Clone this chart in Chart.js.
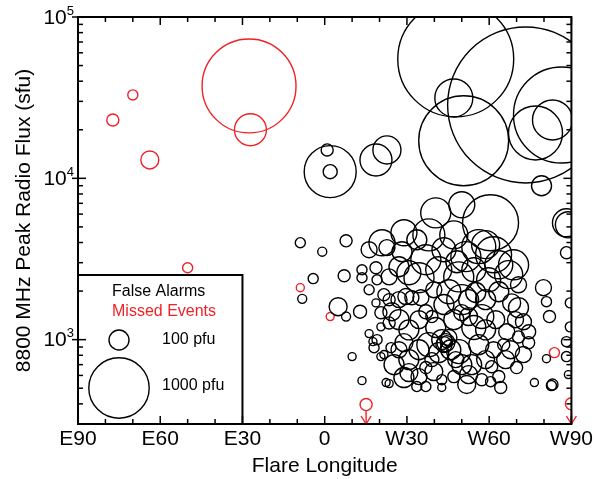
<!DOCTYPE html>
<html>
<head>
<meta charset="utf-8">
<script src="https://cdn.jsdelivr.net/npm/chart.js@4.4.0/dist/chart.umd.min.js"></script>
<style>
html, body { margin: 0; padding: 0; background: #fff; }
</style>
</head>
<body>
<canvas id="chart" width="596" height="479"></canvas>
<script>
// Longitud del flare (grados, E negativo / W positivo), flujo 8800 MHz (sfu), flujo de protones (pfu)
const faLon = [
  47.8, 73.3, 50.7, 47.1, 86.4, 76.9, 83.1, 79.1,
  2.0, 0.9, 2.0, 18.7, 22.7,
  -8.9, -0.9, 7.8, -4.2, 7.1, -8.2, 4.9, 7.8, 12.9, 10.0, 13.6,
  40.5, 50.0, 60.5, 38.0, 36.9, 34.4, 51.5, 56.2, 58.7, 63.5,
  67.1, 20.9, 16.2, 22.7, 28.2, 13.6, 18.7, 13.6, 19.1, 23.5,
  27.1, 30.7, 48.9, 45.3, 29.6, 31.8, 35.1, 16.2, 21.6, 18.7,
  24.5, 20.5, 27.1, 30.7, 36.9, 39.1, 40.5, 50.0, 55.1, 58.7,
  63.5, 68.2, 70.7, 57.3, 52.5, 50.0, 54.4, 58.7, 62.4, 66.4,
  70.7, 74.4, 20.5, 23.5, 19.1, 18.0, 21.6, 24.2, 28.9, 30.7,
  30.7, 34.4, 36.9, 39.1, 41.6, 44.2, 45.3, 46.0, 47.8, 50.0,
  52.5, 53.6, 58.7, 60.9, 66.0, 70.0, 63.5, 64.2, 51.8, 47.1,
  42.7, 42.7, 36.9, 33.6, 23.5, 22.4, 57.3, 60.5, 74.4, 69.6,
  16.2, 17.6, 20.5,
  76.5, 82.7, 83.1, 80.9, 79.8, 80.9, 82.0, 88.2, 88.2, 88.9, 88.2, 88.2, 88.9, 89.6, 89.6,
  42.7, 43.5, 44.5, 34.4, 38.0, 27.1, 25.3, 28.9, 39.8, 48.9,
  56.2, 61.6, 67.8, 72.5, 52.5, 43.5, 39.8, 47.1, 34.4, 27.1,
  23.5, 33.6, 43.5, 47.1, 54.4, 59.8, 70.7, 72.5, 65.3,
  28.9, 61.6, 68.9, 41.6, 48.2
];
const faFlux = [
  55000, 28500, 17100, 31500, 24700, 19100, 23000, 9000,
  11000, 15000, 11000, 13000, 15000,
  3990, 3510, 4100, 2390, 2490, 1790, 1600, 1390, 1490, 785, 557,
  6110, 6860, 5300, 4460, 3130, 2420, 3270, 3770, 3880, 2910,
  2530, 3990, 3610, 3720, 3510, 2710, 2790, 2420, 2350, 2450,
  2830, 2600, 2450, 1980, 1850, 1820, 1820, 2040, 1900, 1690,
  1490, 1470, 1330, 1150, 1490, 1390, 1190, 1770, 1960, 1770,
  1980, 1690, 1580, 1390, 1390, 1470, 1190, 1150, 1330, 1120,
  1040, 1120, 1200, 1270, 1000, 892, 808, 892, 958, 752,
  625, 590, 671, 752, 831, 958, 1030, 866, 752, 700,
  607, 700, 752, 680, 752, 671, 590, 505, 527, 590,
  565, 505, 512, 512, 534, 542, 565, 549, 958, 1330,
  1090, 972, 785,
  542, 519, 527, 762, 2100, 1720, 1390, 3460, 5300, 5150, 972, 785, 607, 1200, 1690,
  1000, 931, 972, 866, 931, 866, 700, 582, 634, 843,
  931, 866, 866, 808, 1770, 1650, 2040, 1330, 1330, 1770,
  1770, 4160, 3610, 4460, 2710, 2350, 2190, 1290, 931,
  4600, 3360, 2910, 2710, 3040
];
const faPfu = [
  3890, 7220, 2290, 381, 2630, 792, 424, 100,
  732, 35, 48, 266, 202,
  24, 19, 35, 24, 35, 19, 80, 19, 41, 15, 15,
  233, 173, 854, 266, 233, 233, 233, 302, 202, 202,
  202, 173, 63, 63, 100, 24, 35, 24, 24, 63,
  100, 146, 233, 146, 63, 48, 63, 24, 35, 15,
  80, 35, 100, 100, 48, 35, 100, 233, 100, 100,
  100, 80, 100, 146, 80, 63, 146, 100, 80, 63,
  35, 48, 15, 35, 24, 24, 15, 24, 80, 100,
  80, 63, 35, 48, 100, 80, 63, 100, 63, 100,
  80, 100, 80, 35, 80, 35, 35, 35, 80, 35,
  24, 15, 24, 24, 15, 15, 35, 24, 35, 63,
  15, 15, 15,
  15, 24, 29, 15, 63, 24, 35, 35, 202, 173, 24, 24, 15, 24, 24,
  100, 63, 35, 100, 146, 63, 100, 100, 80, 146,
  100, 63, 80, 63, 100, 100, 63, 100, 80, 63,
  35, 100, 146, 202, 146, 146, 63, 63, 35,
  173, 340, 233, 173, 122
];

const meLon = [-77.3, -70.0, -63.8, -27.6, -27.1, -50.0, -8.9, 2.0, 15.1, 83.8, 90];
const meFlux = [23000, 32900, 13000, 37400, 20000, 2790, 2100, 1390, 396, 831, 400];
const mePfu = [35, 24, 80, 2510, 266, 24, 15, 15, 35, 24, 35];
const meLimit = [0, 0, 0, 0, 0, 0, 0, 0, 1, 0, 1]; // limite superior (flecha)

const tickValues = [-90, -60, -30, 0, 30, 60, 90];
const tickLabels = ['E90', 'E60', 'E30', '0', 'W30', 'W60', 'W90'];
const yTickValues = [1e3, 1e4, 1e5];
const yTickExp = ['3', '4', '5'];
const legendPfu = [100, 1000];

const FONT = '"Liberation Sans", Arial, sans-serif';
const RED = '#ee2227';

// radio del circulo segun el flujo de protones
const radiusFor = pfu => 10 * Math.pow(pfu / 100, 0.48);

// las burbujas grandes no deben agrandar el margen del grafico
Chart.BubbleController.prototype.getMaxOverflow = function () { return false; };

function toPoints(lon, flux, pfu) {
  return lon.map((v, i) => ({ x: v, y: flux[i], r: radiusFor(pfu[i]) }));
}

function line(ctx, x1, y1, x2, y2) {
  ctx.beginPath();
  ctx.moveTo(x1, y1);
  ctx.lineTo(x2, y2);
  ctx.stroke();
}

// Marco, ticks hacia adentro, etiquetas 10^n, leyenda y flechas
const frame = {
  id: 'frame',
  afterDatasetsDraw(chart) {
    const { ctx, chartArea: a, scales: { x, y } } = chart;
    ctx.save();

    // flechas de los eventos perdidos
    const meta = chart.getDatasetMeta(1);
    ctx.strokeStyle = RED;
    ctx.lineWidth = 1.4;
    meLimit.forEach((flag, i) => {
      if (!flag) return;
      const p = meta.data[i];
      const top = p.y + radiusFor(mePfu[i]);
      line(ctx, p.x, top, p.x, a.bottom);
      ctx.beginPath();
      ctx.moveTo(p.x - 5, a.bottom - 8);
      ctx.lineTo(p.x, a.bottom);
      ctx.lineTo(p.x + 5, a.bottom - 8);
      ctx.stroke();
    });

    // leyenda
    const lx = a.left, lr = x.getPixelForValue(-30), lt = a.bottom - 149;
    ctx.fillStyle = '#fff';
    ctx.fillRect(lx, lt, lr - lx, a.bottom - lt);
    ctx.strokeStyle = '#000';
    ctx.lineWidth = 2;
    ctx.strokeRect(lx, lt, lr - lx, a.bottom - lt);
    ctx.font = '16px ' + FONT;
    ctx.textAlign = 'left';
    ctx.textBaseline = 'middle';
    ctx.fillStyle = '#000';
    ctx.fillText('False Alarms', lx + 34, lt + 17);
    ctx.fillStyle = RED;
    ctx.fillText('Missed Events', lx + 34, lt + 37);
    ctx.fillStyle = '#000';
    ctx.lineWidth = 1.4;
    const cy = [lt + 65, lt + 113];
    legendPfu.forEach((pfu, i) => {
      ctx.beginPath();
      ctx.arc(lx + 41, cy[i], radiusFor(pfu), 0, Math.PI * 2);
      ctx.stroke();
      ctx.fillText(pfu + ' pfu', lx + 84, cy[i] - (i ? 2 : 0));
    });

    // marco
    ctx.lineWidth = 2;
    ctx.strokeRect(a.left, a.top, a.right - a.left, a.bottom - a.top);

    // ticks eje x (arriba y abajo)
    ctx.lineWidth = 1.5;
    for (let v = -90; v <= 90; v += 10) {
      const px = x.getPixelForValue(v);
      const len = v % 30 === 0 ? 8 : 5;
      line(ctx, px, a.bottom, px, a.bottom - len);
      line(ctx, px, a.top, px, a.top + len);
    }
    // ticks eje y (izquierda y derecha)
    for (let e = 2; e <= 5; e++) {
      for (let m = 1; m <= 9; m++) {
        const v = m * Math.pow(10, e);
        if (v < 300 || v > 1e5) continue;
        const py = y.getPixelForValue(v);
        const major = m === 1;
        line(ctx, a.left - (major ? 6 : 0), py, a.left + (major ? 8 : 5), py);
        line(ctx, a.right, py, a.right - (major ? 8 : 5), py);
      }
    }

    // etiquetas 10^n
    ctx.fillStyle = '#000';
    ctx.textBaseline = 'middle';
    yTickValues.forEach((v, i) => {
      const py = y.getPixelForValue(v);
      ctx.font = '13px ' + FONT;
      ctx.textAlign = 'right';
      const w = ctx.measureText(yTickExp[i]).width;
      ctx.fillText(yTickExp[i], a.left - 4, py - 6);
      ctx.font = '21px ' + FONT;
      ctx.fillText('10', a.left - 4 - w, py + 1);
    });
    ctx.restore();
  }
};

const ctx = document.getElementById('chart').getContext('2d');
new Chart(ctx, {
  type: 'bubble',
  data: {
    datasets: [
      {
        label: 'False Alarms',
        data: toPoints(faLon, faFlux, faPfu),
        borderColor: '#000',
        backgroundColor: 'rgba(0,0,0,0)',
        borderWidth: 1.4,
        clip: 0
      },
      {
        label: 'Missed Events',
        data: toPoints(meLon, meFlux, mePfu),
        borderColor: RED,
        backgroundColor: 'rgba(0,0,0,0)',
        borderWidth: 1.4,
        clip: 0
      }
    ]
  },
  options: {
    responsive: false,
    animation: false,
    layout: { padding: { top: 17, right: 23, left: 0, bottom: 0 } },
    plugins: { legend: { display: false }, tooltip: { enabled: false } },
    scales: {
      x: {
        type: 'linear',
        min: -90,
        max: 90,
        grid: { display: false, drawTicks: false },
        border: { display: false },
        afterBuildTicks: s => { s.ticks = tickValues.map(v => ({ value: v })); },
        ticks: {
          autoSkip: false,
          maxRotation: 0,
          padding: 3,
          color: '#000',
          font: { family: FONT, size: 21 },
          callback: v => tickLabels[tickValues.indexOf(v)]
        },
        title: {
          display: true,
          text: 'Flare Longitude',
          color: '#000',
          font: { family: FONT, size: 21 },
          padding: { top: 0, bottom: 0 }
        },
        afterFit: s => { s.height = 55; }
      },
      y: {
        type: 'logarithmic',
        min: 300,
        max: 100000,
        grid: { display: false, drawTicks: false },
        border: { display: false },
        ticks: { display: false },
        title: {
          display: true,
          text: '8800 MHz Peak Radio Flux (sfu)',
          color: '#000',
          font: { family: FONT, size: 21 },
          padding: { top: 12 }
        },
        afterFit: s => { s.width = 78; }
      }
    }
  },
  plugins: [frame]
});
</script>
</body>
</html>
